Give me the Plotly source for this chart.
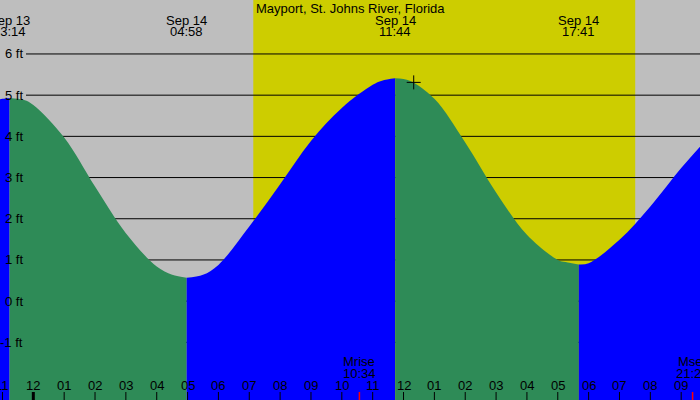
import plotly.graph_objects as go

# =========================
# DATA (hours from midnight Sep 14, height in ft)
# =========================
tide_hours = [-1.08, -1.0, -0.77, -0.3, 0, 1, 2, 3, 4, 4.5, 4.97, 5.5, 6, 7, 8, 9, 10, 11,
              11.3, 11.73, 12.2, 13, 14, 15, 16, 17, 17.25, 17.68, 18, 19, 20, 21, 21.61]
tide_feet = [4.90, 4.91, 4.93, 4.88, 4.76, 3.97, 2.78, 1.65, 0.84, 0.64, 0.57, 0.64,
             0.88, 1.81, 2.84, 3.89, 4.69, 5.25, 5.35, 5.41, 5.35, 4.91, 3.85, 2.64,
             1.61, 1.00, 0.95, 0.89, 0.92, 1.49, 2.30, 3.23, 3.75]

extreme_hours = [-0.77, 4.97, 11.73, 17.68]
extreme_dates = ["Sep 13", "Sep 14", "Sep 14", "Sep 14"]
extreme_times = ["23:14", "04:58", "11:44", "17:41"]

sunrise, sunset = 7.13, 19.51

moon_hours = [10.57, 21.37]
moon_names = ["Mrise", "Mset"]
moon_times = ["10:34", "21:22"]

hour_ticks = list(range(-1, 22))
hour_labels = ["11", "12", "01", "02", "03", "04", "05", "06", "07", "08", "09", "10",
               "11", "12", "01", "02", "03", "04", "05", "06", "07", "08", "09"]

ft_levels = [-1, 0, 1, 2, 3, 4, 5, 6]

now_hour, now_feet = 12.33, 5.31

X_RANGE = [-1.08, 21.61]
Y_RANGE = [-2.40, 7.31]
FLOOR = -3

GRAY = "#bebebe"
YELLOW = "#cdcd00"
BLUE = "#0000ff"
GREEN = "#2e8b57"
FONT = "Liberation Sans"

fig = go.Figure()

# =========================
# TIDE SEGMENTS (rising blue, falling green)
# =========================
bounds = [tide_hours[0]] + extreme_hours + [tide_hours[-1]]
for i in range(len(bounds) - 1):
    a, b = bounds[i], bounds[i + 1]
    xs = [h for h in tide_hours if a <= h <= b]
    ys = [tide_feet[tide_hours.index(h)] for h in xs]
    if len(xs) < 2:
        continue
    col = BLUE if ys[-1] > ys[0] else GREEN
    fig.add_trace(go.Scatter(x=[xs[0], xs[-1]], y=[FLOOR, FLOOR], mode="lines",
                             line=dict(width=0), showlegend=False, hoverinfo="skip"))
    fig.add_trace(go.Scatter(x=xs, y=ys, mode="lines", fill="tonexty",
                             line=dict(width=0, shape="spline", color=col),
                             fillcolor=col, showlegend=False, hoverinfo="skip"))

# current marker
fig.add_trace(go.Scatter(x=[now_hour], y=[now_feet], mode="markers",
                         marker=dict(symbol="cross-thin", size=10,
                                     line=dict(color="black", width=1)),
                         showlegend=False, hoverinfo="skip"))

# =========================
# SHAPES
# =========================
shapes = [dict(type="rect", xref="x", yref="paper", x0=sunrise, x1=sunset, y0=0, y1=1,
               fillcolor=YELLOW, line=dict(width=0), layer="below")]
for lv in ft_levels:
    shapes.append(dict(type="line", xref="paper", yref="y", x0=26 / 700, x1=1, y0=lv, y1=lv,
                       line=dict(color="black", width=1), layer="below"))
for h in hour_ticks:
    shapes.append(dict(type="line", xref="x", yref="paper", x0=h, x1=h, y0=0, y1=8 / 400,
                       line=dict(color="black", width=3 if h == 0 else 1)))
for h in moon_hours:
    shapes.append(dict(type="line", xref="x", yref="paper", x0=h, x1=h, y0=0, y1=8 / 400,
                       line=dict(color="red", width=1.5)))

# =========================
# TEXT
# =========================
ann = [dict(text="Mayport, St. Johns River, Florida", xref="paper", yref="paper",
            x=0.5, y=1 - 8 / 400, showarrow=False, yanchor="middle")]
for h, d, t in zip(extreme_hours, extreme_dates, extreme_times):
    ann.append(dict(text=d, xref="x", yref="paper", x=h, y=1 - 20 / 400,
                    showarrow=False, yanchor="middle"))
    ann.append(dict(text=t, xref="x", yref="paper", x=h, y=1 - 31 / 400,
                    showarrow=False, yanchor="middle"))
for h, n, t in zip(moon_hours, moon_names, moon_times):
    ann.append(dict(text=n, xref="x", yref="paper", x=h, y=1 - 361 / 400,
                    showarrow=False, yanchor="middle"))
    ann.append(dict(text=t, xref="x", yref="paper", x=h, y=1 - 373 / 400,
                    showarrow=False, yanchor="middle"))
for h, lab in zip(hour_ticks, hour_labels):
    ann.append(dict(text=lab, xref="x", yref="paper", x=h, y=1 - 385 / 400,
                    showarrow=False, yanchor="middle"))
for lv in ft_levels:
    ann.append(dict(text=f"{lv} ft", xref="paper", yref="y", x=25 / 700, y=lv,
                    xanchor="right", yanchor="middle", showarrow=False))

fig.update_layout(
    width=700, height=400,
    margin=dict(l=0, r=0, t=0, b=0),
    paper_bgcolor=GRAY, plot_bgcolor=GRAY,
    font=dict(family=FONT, size=13, color="black"),
    xaxis=dict(range=X_RANGE, visible=False, fixedrange=True),
    yaxis=dict(range=Y_RANGE, visible=False, fixedrange=True),
    shapes=shapes,
    annotations=ann,
    showlegend=False,
)

fig.write_html("out.html", config={"displayModeBar": False},
               post_script="document.body.style.margin='0';document.body.style.overflow='hidden';")
